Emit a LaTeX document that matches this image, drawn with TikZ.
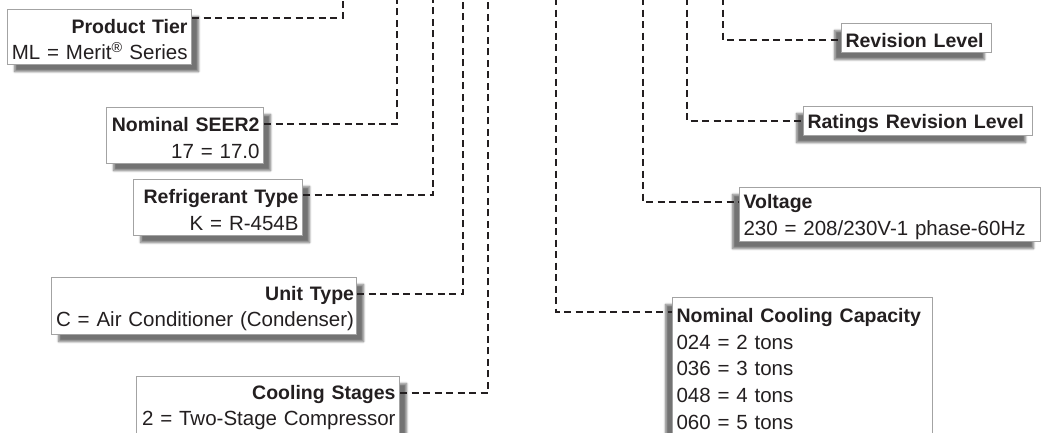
\documentclass[tikz,border=0pt]{standalone}
\usepackage{fontspec}
\setmainfont{Liberation Sans}
\usetikzlibrary{shadows.blur}
\definecolor{linec}{HTML}{231F20}
\definecolor{boxgray}{HTML}{A3A3A3}
\definecolor{txt}{HTML}{231F20}
\newcommand\hd[1]{{\fontsize{19.5}{26.7}\selectfont\bfseries\rule{0pt}{19pt}#1}}
\tikzset{
  box/.style={draw=boxgray, line width=1.1pt, fill=white, inner xsep=4pt, inner ysep=0pt,
    font=\fontsize{20.5}{26.7}\selectfont, text=txt, anchor=north west},
  lbox/.style={box, align=right, blur shadow={shadow xshift=7pt, shadow yshift=-7pt, shadow blur steps=8, shadow opacity=55}},
  rbox/.style={box, align=left, blur shadow={shadow xshift=-7pt, shadow yshift=-7pt, shadow blur steps=8, shadow opacity=55}},
  lead/.style={draw=linec, line width=2.2pt, dash pattern=on 7pt off 4.5pt}
}
\begin{document}
\begin{tikzpicture}[x=1pt,y=-1pt]
\useasboundingbox (0,0) rectangle (1041,432);
% top ends of the leaders
\coordinate (t1) at (343,-2);
\coordinate (t2) at (397,-2);
\coordinate (t3) at (433,-2);
\coordinate (t4) at (463,-2);
\coordinate (t5) at (488,-2);
\coordinate (t6) at (556,-2);
\coordinate (t7) at (643,-2);
\coordinate (t8) at (687,-2);
\coordinate (t9) at (723,-2);
% left boxes
\node[lbox, text width=176pt, minimum height=55pt] (pt) at (7,9)
  {\hd{Product Tier}\\ML = Merit\textsuperscript{®} Series};
\node[lbox, text width=149pt, minimum height=56pt] (seer) at (106,107)
  {\hd{Nominal SEER2}\\17 = 17.0};
\node[lbox, text width=161pt, minimum height=56pt] (ref) at (133,179)
  {\hd{Refrigerant Type}\\K = R-454B};
\node[lbox, inner xsep=2.5pt, text width=300pt, minimum height=57pt] (unit) at (51,277)
  {\hd{Unit Type}\\\mbox{C = Air Conditioner (Condenser)}};
\node[lbox, text width=255pt, minimum height=57pt] (stage) at (136,376)
  {\hd{Cooling Stages}\\2 = Two-Stage Compressor};
% right boxes
\node[rbox, text width=252pt, minimum height=138pt] (cap) at (672,297)
  {\hd{Nominal Cooling Capacity}\\024 = 2 tons\\036 = 3 tons\\048 = 4 tons\\060 = 5 tons};
\node[rbox, text width=293pt, minimum height=54pt] (volt) at (739,187)
  {\hd{Voltage}\\230 = 208/230V-1 phase-60Hz};
\node[rbox, text width=221pt, minimum height=29pt] (rrl) at (803,106)
  {\hd{Ratings Revision Level}};
\node[rbox, text width=142pt, minimum height=29pt] (rl) at (841,23)
  {\hd{Revision Level}};
% leaders
\draw[lead] ([yshift=-9pt]pt.north east) -| (t1);
\draw[lead] ([yshift=-17pt]seer.north east) -| (t2);
\draw[lead] ([yshift=-16pt]ref.north east) -| (t3);
\draw[lead] ([yshift=-17pt]unit.north east) -| (t4);
\draw[lead] ([yshift=-17pt]stage.north east) -| (t5);
\draw[lead] (t6) |- ([yshift=-15pt]cap.north west);
\draw[lead] (t7) |- ([yshift=-15pt]volt.north west);
\draw[lead] (t8) |- ([yshift=-15pt]rrl.north west);
\draw[lead] (t9) |- ([yshift=-17pt]rl.north west);
\end{tikzpicture}
\end{document}
